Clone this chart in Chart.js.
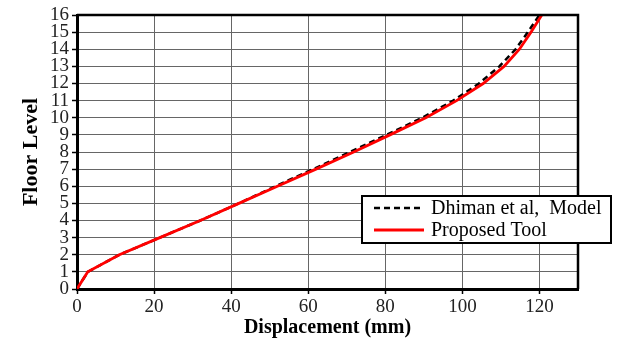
<!DOCTYPE html>
<html>
<head>
<meta charset="utf-8">
<script src="https://cdn.jsdelivr.net/npm/chart.js@4"></script>
<style>
  html, body { margin: 0; padding: 0; background: #fff; }
  #wrap { width: 632px; height: 342px; }
</style>
</head>
<body>
<div id="wrap"><canvas id="myChart" width="632" height="342"></canvas></div>
<script>
// floor levels and displacements (mm)
const floors = [0, 1, 2, 3, 4, 5, 6, 7, 8, 9, 10, 11, 12, 13, 14, 15, 16];
const dhimanDisp = [0, 2.8, 11, 21.5, 32, 42, 51.5, 61.3, 70.8, 80.3, 89.6, 97.6, 104.3, 109.6, 113.8, 117.0, 120.0];
const proposedDisp = [0, 2.8, 11, 21.5, 32, 42, 52, 62, 71.8, 81.2, 90.5, 98.5, 105.4, 110.8, 114.8, 117.8, 120.6];
const xTicks = [0, 20, 40, 60, 80, 100, 120];
const seriesNames = ['Dhiman et al,  Model', 'Proposed Tool'];

const toPoints = (xs) => xs.map((x, i) => ({ x: x, y: floors[i] }));

// box around plot + legend inside the chart area
const frameAndLegend = {
  id: 'frameAndLegend',
  afterDatasetsDraw(chart) {
    const c = chart.ctx;
    const a = chart.chartArea;
    c.save();
    c.strokeStyle = '#000';
    c.lineWidth = 2.5;
    c.beginPath();
    c.moveTo(a.left, a.top);
    c.lineTo(a.right, a.top);
    c.lineTo(a.right, a.bottom);
    c.stroke();

    // legend box
    const bx = 362, by = 196, bw = 249, bh = 47;
    c.fillStyle = '#fff';
    c.fillRect(bx, by, bw, bh);
    c.lineWidth = 2;
    c.strokeRect(bx, by, bw, bh);

    c.font = '20px "Liberation Serif", "Times New Roman", serif';
    c.textBaseline = 'middle';
    c.fillStyle = '#000';
    chart.data.datasets.forEach((ds, i) => {
      const y = by + 12 + i * 22;
      c.strokeStyle = ds.borderColor;
      c.lineWidth = ds.borderWidth;
      c.setLineDash(ds.borderDash || []);
      c.beginPath();
      c.moveTo(bx + 12, y);
      c.lineTo(bx + 62, y);
      c.stroke();
      c.setLineDash([]);
      c.fillText(ds.label, bx + 69, y + 1);
    });
    c.restore();
  }
};

const gridOpts = {
  color: '#666',
  lineWidth: 1,
  borderDash: [1, 2],
  tickColor: '#000',
  tickBorderDash: [],
  tickLength: 5,
  tickWidth: 1.5,
};

new Chart(document.querySelector('#myChart'), {
  type: 'line',
  data: {
    datasets: [
      {
        label: seriesNames[0],
        data: toPoints(dhimanDisp),
        borderColor: '#000',
        borderWidth: 2.5,
        borderDash: [6, 4],
        pointRadius: 0,
        tension: 0,
        order: 2,
      },
      {
        label: seriesNames[1],
        data: toPoints(proposedDisp),
        borderColor: '#ff0000',
        borderWidth: 2.8,
        pointRadius: 0,
        tension: 0,
        order: 1,
      },
    ],
  },
  options: {
    responsive: false,
    animation: false,
    layout: { padding: { top: 15, right: 54, left: 0, bottom: 0 } },
    plugins: {
      legend: { display: false },
      tooltip: { enabled: false },
    },
    scales: {
      x: {
        type: 'linear',
        min: 0,
        max: 130,
        afterBuildTicks: (scale) => {
          scale.ticks = xTicks.map((v) => ({ value: v }));
        },
        afterFit: (scale) => { scale.height = 53; },
        grid: gridOpts,
        border: { color: '#000', width: 3 },
        ticks: {
          color: '#222',
          padding: 2,
          autoSkip: false,
          font: { family: '"Liberation Serif", serif', size: 19 },
        },
        title: {
          display: true,
          text: 'Displacement (mm)',
          color: '#000',
          padding: { top: 0, bottom: 2 },
          font: { family: '"Liberation Serif", serif', size: 20, weight: 'bold' },
        },
      },
      y: {
        type: 'linear',
        min: 0,
        max: 16,
        afterFit: (scale) => { scale.width = 77; },
        grid: gridOpts,
        border: { color: '#000', width: 3 },
        ticks: {
          stepSize: 1,
          autoSkip: false,
          color: '#222',
          padding: 3,
          font: { family: '"Liberation Serif", serif', size: 19, lineHeight: 1 },
        },
        title: {
          display: true,
          text: 'Floor Level',
          color: '#000',
          padding: { top: 18, bottom: 0 },
          font: { family: '"Liberation Serif", serif', size: 22, weight: 'bold' },
        },
      },
    },
  },
  plugins: [frameAndLegend],
});
</script>
</body>
</html>
